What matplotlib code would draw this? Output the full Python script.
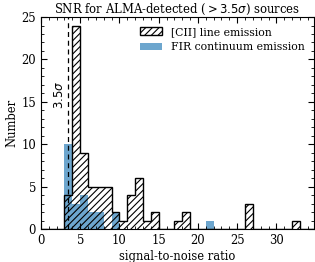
import numpy as np
import matplotlib
matplotlib.use("Agg")
import matplotlib.pyplot as plt
from matplotlib.patches import Patch
from matplotlib.ticker import MultipleLocator

# bordes de los bins (ancho 1)
bordes = np.arange(0, 36, 1)

# [CII] cuentas por bin, empezando en 0-1
cii = [0, 0, 0, 4, 24, 9, 5, 5, 5, 2, 1, 4, 6, 1, 2, 0, 0, 1, 2,
       0, 0, 0, 0, 0, 0, 0, 3, 0, 0, 0, 0, 0, 1, 0, 0]
# FIR continuo
fir = [0, 0, 0, 10, 3, 4, 2, 2, 0, 2, 0, 0, 0, 0, 0, 0, 0, 0, 0,
       0, 0, 1, 0, 0, 0, 0, 0, 0, 0, 0, 0, 0, 0, 0, 0]

centros = bordes[:-1] + 0.5

plt.rcParams['font.family'] = ['DejaVu Serif']
plt.rcParams['hatch.linewidth'] = 0.8

fig, ax = plt.subplots(figsize=(3.15, 2.62), dpi=100)
fig.subplots_adjust(left=0.13, right=0.997, bottom=0.126, top=0.935)

ax.hist(centros, bins=bordes, weights=fir, histtype='stepfilled',
        color='#1f77b4', alpha=0.65, linewidth=0)
ax.hist(centros, bins=bordes, weights=cii, histtype='step',
        hatch='/////', color='k', linewidth=1.0)

ax.axvline(3.5, color='k', linestyle='--', linewidth=0.9, dashes=(4, 3))
ax.text(3.2, 15.8, r'$3.5\sigma$', rotation=90, ha='right', va='center',
        fontsize=8.5)

ax.set_xlim(0, 34.8)
ax.set_ylim(0, 25)
ax.xaxis.set_major_locator(MultipleLocator(5))
ax.xaxis.set_minor_locator(MultipleLocator(1))
ax.yaxis.set_major_locator(MultipleLocator(5))
ax.yaxis.set_minor_locator(MultipleLocator(1))
ax.tick_params(which='both', direction='in', top=True, right=True,
               labelsize=8.4)
ax.tick_params(which='major', length=4)
ax.tick_params(which='minor', length=2)

ax.set_xlabel('signal-to-noise ratio', fontsize=8.3, labelpad=2.5)
ax.set_ylabel('Number', fontsize=8.3, labelpad=2)
ax.set_title(r'SNR for ALMA-detected ($>3.5\sigma$) sources', fontsize=8.4,
             pad=3)

manejadores = [Patch(facecolor='none', edgecolor='k', hatch='/////'),
               Patch(facecolor='#1f77b4', alpha=0.65)]
ax.legend(manejadores, ['[CII] line emission', 'FIR continuum emission'],
          loc='upper right', frameon=False, fontsize=7.8, handlelength=2.0)

plt.savefig('out.png', dpi=100)
